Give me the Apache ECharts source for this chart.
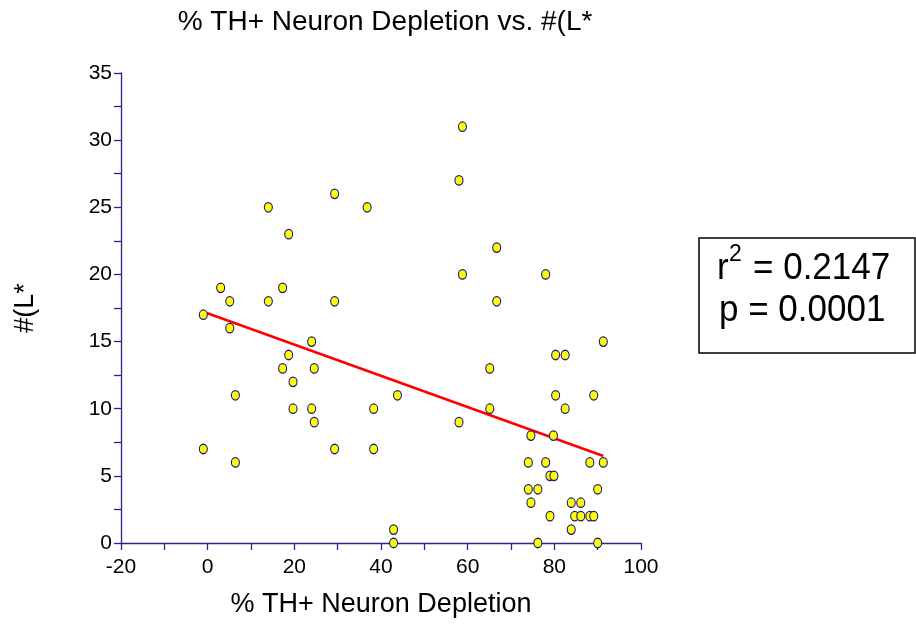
<!DOCTYPE html>
<html>
<head>
<meta charset="utf-8">
<script src="https://cdn.jsdelivr.net/npm/echarts@6/dist/echarts.min.js"></script>
<style>html,body{margin:0;padding:0;background:#fff;}#chart{width:916px;height:624px;}</style>
</head>
<body>
<div id="chart"></div>
<script>
const titleText = '% TH+ Neuron Depletion vs. #(L*';
const xName = '% TH+ Neuron Depletion';
const yName = '#(L*';
const depletion = [-1, -1, 3, 5.1, 5.1, 6.4, 6.4, 14, 14, 17.3, 17.3, 18.7, 18.7, 19.7, 19.7,
  24, 24.6, 24, 24.6, 29.3, 29.3, 29.3, 36.8, 38.3, 38.3, 43.8, 42.9, 42.9,
  58.8, 58, 58.8, 58, 65.1, 65.1, 66.7, 66.7, 78, 91.3, 80.3, 82.5, 80.3, 89.1, 82.5,
  74.6, 79.8, 74, 78, 88.2, 91.3, 79, 79.9, 74, 76.2, 90, 74.6, 83.9, 86.1,
  79, 84.7, 86.1, 88.2, 89.1, 83.9, 76.2, 90];
const counts = [17, 7, 19, 18, 16, 11, 6, 25, 18, 19, 13, 23, 14, 12, 10,
  15, 13, 10, 9, 26, 18, 7, 25, 10, 7, 11, 1, 0,
  31, 27, 20, 9, 13, 10, 22, 18, 20, 15, 14, 14, 11, 11, 10,
  8, 8, 6, 6, 6, 6, 5, 5, 4, 4, 4, 3, 3, 3,
  2, 2, 2, 2, 2, 1, 0, 0];
const fitX = [-1, 91.3];
const fitY = [17.22, 6.48];
const statR2 = '0.2147';
const statP = '0.0001';

const FONT = "'Liberation Sans', Arial, sans-serif";
const AXIS_COLOR = '#26268c';
const chart = echarts.init(document.getElementById('chart'), null, {renderer: 'canvas'});
const points = depletion.map((x, i) => [x, counts[i]]);
const fitLine = fitX.map((x, i) => [x, fitY[i]]);

chart.setOption({
  animation: false,
  backgroundColor: '#fff',
  title: {
    text: titleText, left: 385, top: 8, textAlign: 'center', padding: 0,
    textStyle: {fontFamily: FONT, fontSize: 28, fontWeight: 'normal', color: '#000'}
  },
  grid: {left: 121, top: 73, width: 520, height: 470},
  xAxis: {
    type: 'value', min: -20, max: 100, interval: 20,
    name: xName, nameLocation: 'middle', nameGap: 48,
    nameTextStyle: {fontFamily: FONT, fontSize: 27, color: '#000'},
    axisLine: {show: true, onZero: false, lineStyle: {color: AXIS_COLOR, width: 1.3}},
    axisTick: {show: true, length: 7, lineStyle: {color: AXIS_COLOR, width: 1.3}},
    minorTick: {show: true, splitNumber: 2, length: 7, lineStyle: {color: AXIS_COLOR, width: 1.3}},
    axisLabel: {fontFamily: FONT, fontSize: 21, color: '#000', margin: 14},
    splitLine: {show: false}
  },
  yAxis: {
    type: 'value', min: 0, max: 35, interval: 5,
    name: yName, nameLocation: 'middle', nameGap: 82, nameRotate: 90,
    nameTextStyle: {fontFamily: FONT, fontSize: 27, color: '#000'},
    axisLine: {show: true, onZero: false, lineStyle: {color: AXIS_COLOR, width: 1.3}},
    axisTick: {show: true, length: 7, lineStyle: {color: AXIS_COLOR, width: 1.3}},
    minorTick: {show: true, splitNumber: 2, length: 7, lineStyle: {color: AXIS_COLOR, width: 1.3}},
    axisLabel: {fontFamily: FONT, fontSize: 21, color: '#000', margin: 9},
    splitLine: {show: false}
  },
  series: [
    {
      type: 'line', data: fitLine, symbol: 'none', z: 2,
      lineStyle: {color: '#ff0000', width: 2.5}
    },
    {
      type: 'scatter', data: points, symbol: 'circle', symbolSize: [8, 9.5], z: 3,
      itemStyle: {color: '#ffff00', borderColor: '#1a1a80', borderWidth: 1.2, opacity: 1}
    }
  ],
  graphic: [
    {type: 'rect', shape: {x: 699, y: 238, width: 216, height: 115},
     style: {fill: '#fff', stroke: '#000', lineWidth: 1.5}},
    {type: 'text', x: 717, y: 269, scaleY: 1.08,
     style: {text: 'r', font: '35px ' + FONT, fill: '#000', textAlign: 'left', textVerticalAlign: 'middle'}},
    {type: 'text', x: 729, y: 254, scaleY: 1.08,
     style: {text: '2', font: '23px ' + FONT, fill: '#000', textAlign: 'left', textVerticalAlign: 'middle'}},
    {type: 'text', x: 753, y: 269, scaleY: 1.08,
     style: {text: '= ' + statR2, font: '35px ' + FONT, fill: '#000', textAlign: 'left', textVerticalAlign: 'middle'}},
    {type: 'text', x: 719, y: 311, scaleY: 1.08,
     style: {text: 'p = ' + statP, font: '35px ' + FONT, fill: '#000', textAlign: 'left', textVerticalAlign: 'middle'}}
  ]
});
</script>
</body>
</html>
